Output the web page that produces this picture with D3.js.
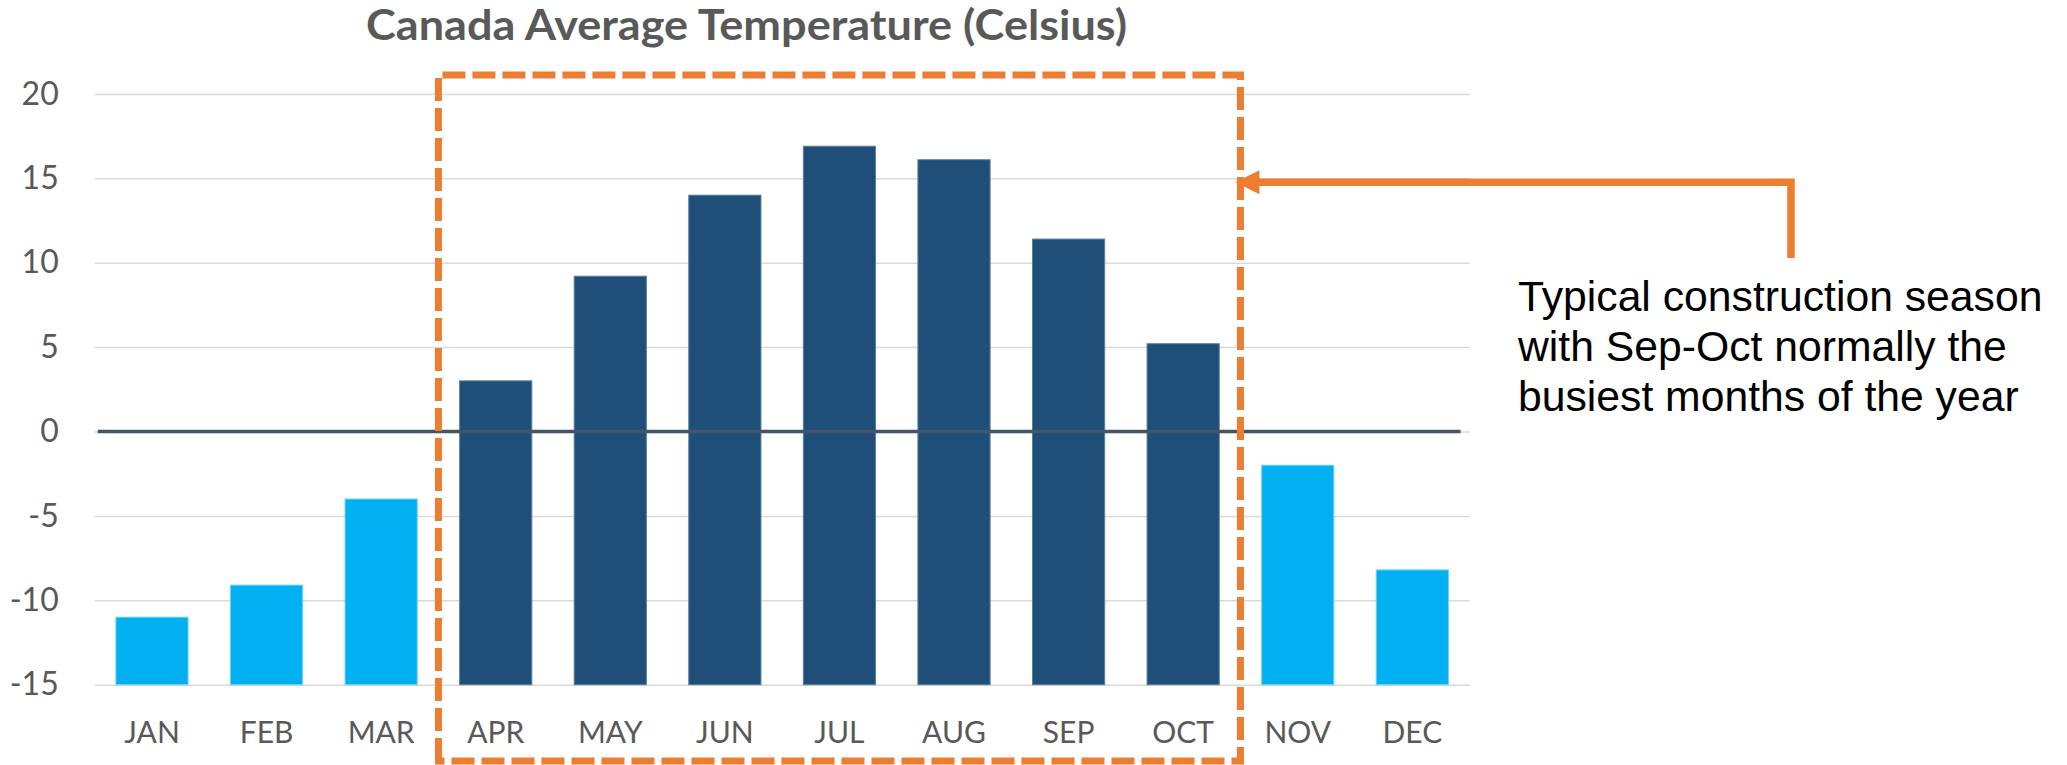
<!DOCTYPE html>
<html>
<head>
<meta charset="utf-8">
<script src="https://cdn.jsdelivr.net/npm/d3@7"></script>
<style>
  html, body { margin: 0; padding: 0; background: #fff; }
  svg { display: block; }
</style>
</head>
<body>
<div id="chart"></div>
<script>
const title = "Canada Average Temperature (Celsius)";
const months = ["JAN", "FEB", "MAR", "APR", "MAY", "JUN", "JUL", "AUG", "SEP", "OCT", "NOV", "DEC"];
const temps = [-11, -9.1, -4, 3, 9.2, 14, 16.9, 16.1, 11.4, 5.2, -2, -8.2];
const seasonMonths = ["APR", "MAY", "JUN", "JUL", "AUG", "SEP", "OCT"];
const yTicks = [-15, -10, -5, 0, 5, 10, 15, 20];
const noteLines = [
    "Typical construction season",
    "with Sep-Oct normally the",
    "busiest months of the year"
];

const width = 2067;
const height = 765;
const plot = { left: 94.7, right: 1469.6, top: 93.9, bottom: 684.7 };
const orange = "#ED7D31";

const data = months.map((m, i) => ({ month: m, value: temps[i] }));

const x = d3.scaleBand()
    .domain(months)
    .range([plot.left, plot.right])
    .paddingInner(0.37)
    .paddingOuter(0.185);
const y = d3.scaleLinear()
    .domain([d3.min(yTicks), d3.max(yTicks)])
    .range([plot.bottom, plot.top]);

const svg = d3.select("#chart").append("svg")
    .attr("width", width)
    .attr("height", height);

// title
svg.append("text")
    .attr("x", 746.5)
    .attr("y", 40)
    .attr("text-anchor", "middle")
    .attr("textLength", 761)
    .attr("lengthAdjust", "spacingAndGlyphs")
    .style("font-family", "Lato, 'Open Sans', sans-serif")
    .style("font-weight", "bold")
    .style("font-size", "42px")
    .style("fill", "#595959")
    .text(title);

// y axis with gridlines (plain hyphen for negatives, like the original)
const yAxis = d3.axisLeft(y)
    .tickValues(yTicks)
    .tickFormat(d => String(d))
    .tickSize(-(plot.right - plot.left))
    .tickPadding(36);
const yg = svg.append("g")
    .attr("transform", `translate(${plot.left},0)`)
    .call(yAxis);
yg.select(".domain").remove();
yg.selectAll(".tick line").attr("stroke", "#D9D9D9").attr("stroke-width", 1.5);
yg.selectAll(".tick text")
    .style("font-family", "Lato, 'Open Sans', sans-serif")
    .style("font-size", "32px")
    .style("fill", "#595959");

// bars start from the bottom of the axis
svg.selectAll(".bar")
    .data(data)
    .enter()
    .append("rect")
    .attr("class", "bar")
    .attr("x", d => x(d.month))
    .attr("width", x.bandwidth())
    .attr("y", d => y(d.value))
    .attr("height", d => y.range()[0] - y(d.value))
    .attr("fill", d => seasonMonths.includes(d.month) ? "#1F4E79" : "#00B0F0")
    .attr("stroke", d => seasonMonths.includes(d.month) ? "#5a7fa3" : "#6fd3f7")
    .attr("stroke-width", 1);

// zero line
svg.append("line")
    .attr("x1", plot.left + 3)
    .attr("x2", plot.right - 9)
    .attr("y1", y(0))
    .attr("y2", y(0))
    .attr("stroke", "#44546A")
    .attr("stroke-width", 3.5);

// x axis labels
const xAxis = d3.axisBottom(x).tickSize(0).tickPadding(37);
const xg = svg.append("g")
    .attr("transform", `translate(0,${plot.bottom})`)
    .call(xAxis);
xg.select(".domain").remove();
xg.selectAll(".tick text")
    .style("font-family", "Lato, 'Open Sans', sans-serif")
    .style("font-size", "30px")
    .style("fill", "#595959");

// dashed box round the construction season
const step = x.step();
const boxLeft = x(seasonMonths[0]) - step * x.paddingInner() / 2;
const boxRight = x(seasonMonths[seasonMonths.length - 1]) + x.bandwidth() + step * x.paddingInner() / 2;
const boxTop = 75;
const boxBottom = 761;
svg.append("path")
    .attr("d", `M${boxLeft},${boxBottom} L${boxLeft},${boxTop} L${boxRight},${boxTop} L${boxRight},${boxBottom} Z`)
    .attr("fill", "none")
    .attr("stroke", orange)
    .attr("stroke-width", 7)
    .attr("stroke-dasharray", "23,7");

// elbow arrow pointing to the box
const arrowY = 182.3;
const elbowX = 1791;
svg.append("path")
    .attr("d", `M${elbowX},258 L${elbowX},${arrowY} L${boxRight + 18},${arrowY}`)
    .attr("fill", "none")
    .attr("stroke", orange)
    .attr("stroke-width", 7.5)
    .attr("stroke-linejoin", "miter");
svg.append("path")
    .attr("d", `M${boxRight - 5},${arrowY} L${boxRight + 19},${arrowY - 12} L${boxRight + 19},${arrowY + 12} Z`)
    .attr("fill", orange);

// annotation text
svg.append("g")
    .selectAll("text")
    .data(noteLines)
    .enter()
    .append("text")
    .attr("x", 1518)
    .attr("y", (d, i) => 311 + i * 50)
    .style("font-family", "'Liberation Sans', Arial, sans-serif")
    .style("font-size", "42.7px")
    .style("fill", "#000")
    .text(d => d);
</script>
</body>
</html>
